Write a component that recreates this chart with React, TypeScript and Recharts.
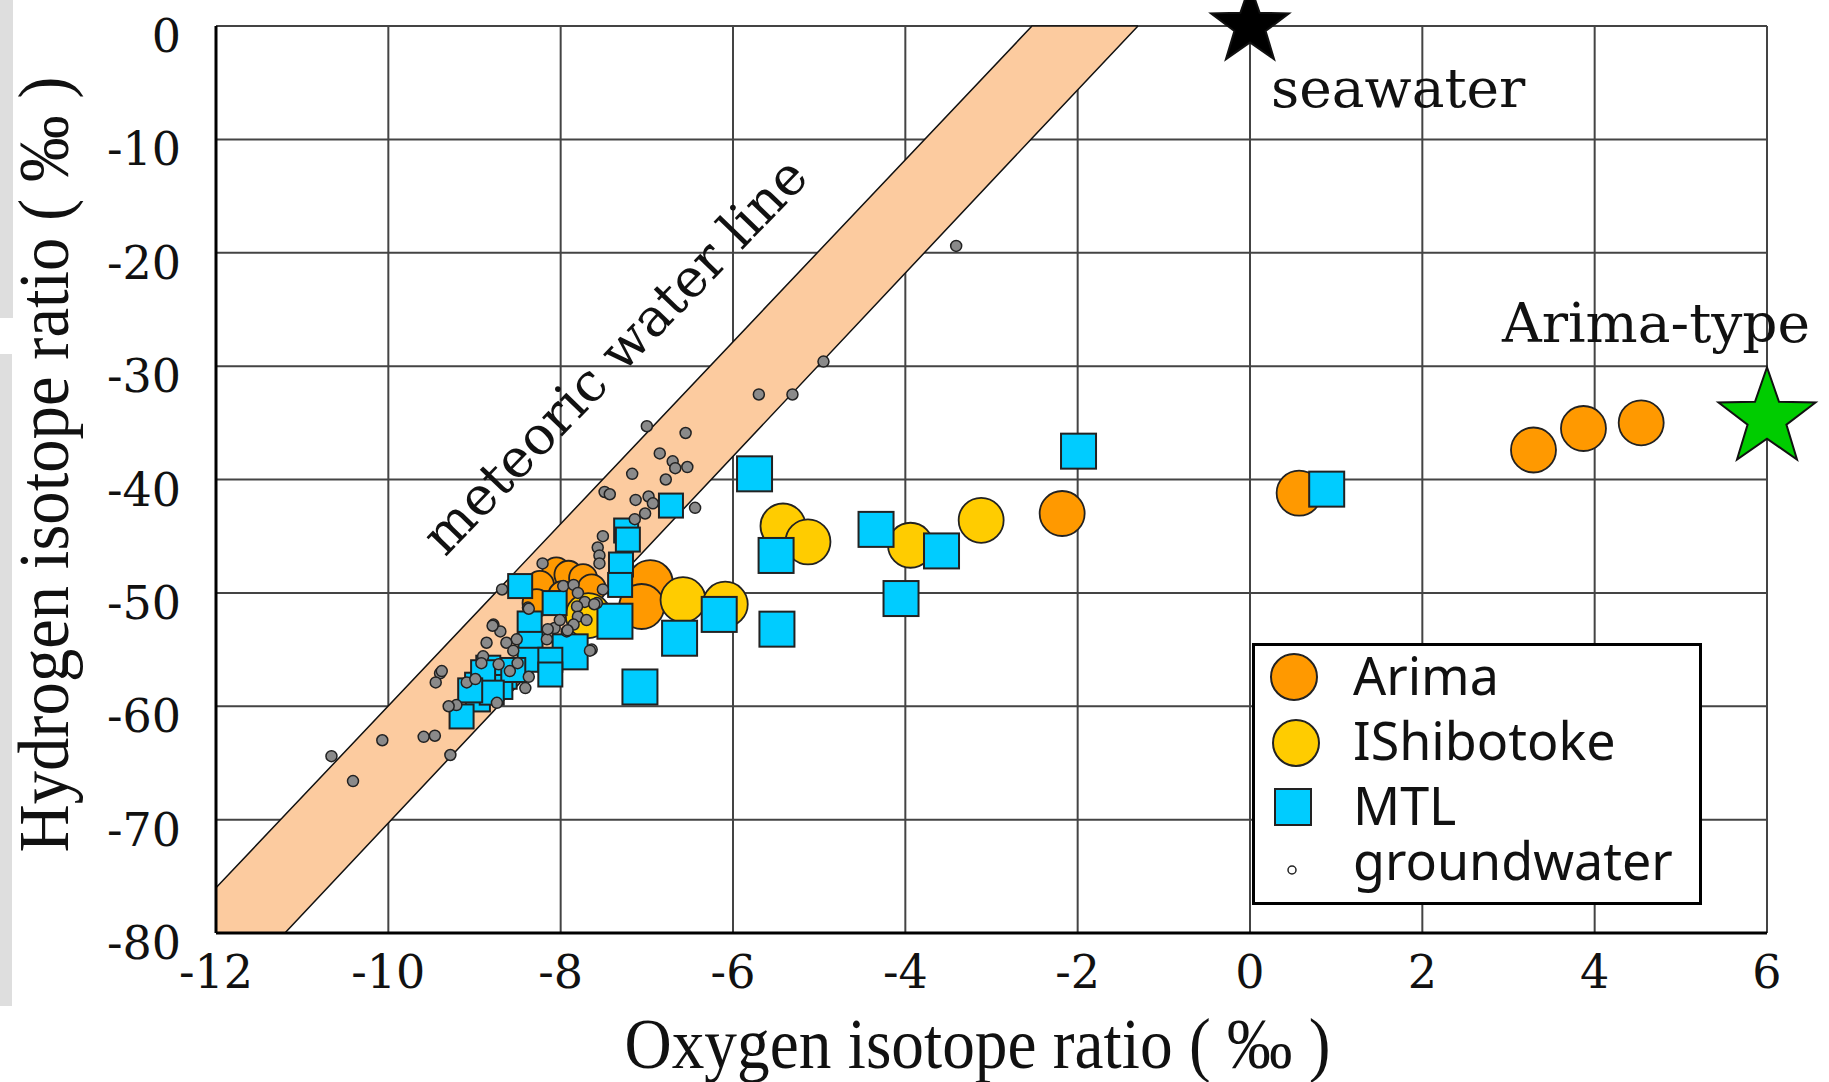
import { ComposedChart, Area, Scatter, XAxis, YAxis, CartesianGrid } from 'recharts'

const xTicks = [-12, -10, -8, -6, -4, -2, 0, 2, 4, 6]
const yTicks = [0, -10, -20, -30, -40, -50, -60, -70, -80]

// meteoric water line band (lower / upper edge), clamped to the plot frame
const bandX = [-12, -11.2, -2.53, -1.3]
const bandLow = [-80, -80, -9.9, 0]
const bandHigh = [-76, -69.6, 0, 0]

const arima = [
  [-6.96, -49.1], [-7.06, -51.2], [-2.18, -43.0], [0.57, -41.2],
  [3.29, -37.4], [3.87, -35.5], [4.54, -35.0],
]
const arimaCluster = [
  [-8.05, -48.1], [-7.91, -48.4], [-7.74, -48.7], [-8.24, -49.3],
  [-7.64, -49.6], [-8.28, -50.9], [-7.98, -50.2],
]
const ishibotoke = [
  [-5.42, -44.1], [-5.13, -45.5], [-3.94, -45.8], [-3.12, -43.6],
  [-6.58, -50.6], [-6.09, -51.0], [-7.68, -52.0],
]
const mtl = [
  [-5.75, -39.5], [-5.5, -46.7], [-4.34, -44.4], [-3.58, -46.3],
  [-4.05, -50.5], [-5.49, -53.2], [-6.16, -51.9], [-6.62, -54.0],
  [-1.99, -37.5], [0.89, -40.85], [-7.08, -58.3], [-7.37, -52.5],
  [-7.89, -55.2],
]
const mtlCluster = [
  [-6.72, -42.3], [-7.24, -44.5], [-7.22, -45.3], [-7.3, -47.5],
  [-7.31, -49.3], [-8.47, -49.4], [-8.07, -50.9], [-8.36, -52.7],
  [-8.35, -54.5], [-8.36, -55.9], [-8.12, -55.9], [-8.12, -57.2],
  [-8.84, -56.6], [-8.65, -57.4], [-8.97, -58.1], [-8.96, -59.4],
  [-9.15, -60.9], [-8.7, -58.3], [-8.55, -56.8], [-8.9, -57.0],
  [-8.8, -58.8], [-9.05, -58.6],
]
const groundwater = [
  [-3.41, -19.4], [-4.95, -29.6], [-5.31, -32.5], [-5.7, -32.5],
  [-7.0, -35.3], [-6.55, -35.9], [-6.85, -37.7], [-6.7, -38.4],
  [-6.67, -39.0], [-6.53, -38.9], [-7.17, -39.5], [-6.78, -40.0],
  [-7.49, -41.1], [-7.43, -41.3], [-7.13, -41.8], [-6.98, -41.5],
  [-6.93, -42.1], [-7.02, -43.0], [-6.44, -42.5], [-7.14, -43.5],
  [-7.51, -45.0], [-7.57, -46.0], [-7.55, -46.7], [-7.55, -47.4],
  [-8.21, -47.4], [-7.51, -49.7], [-8.68, -49.7], [-7.97, -49.4],
  [-7.85, -49.3], [-7.8, -50.0], [-7.72, -50.8], [-7.81, -51.2],
  [-7.58, -50.9], [-7.8, -52.1], [-7.7, -52.4], [-7.85, -52.8],
  [-8.07, -53.1], [-7.93, -53.4], [-8.16, -54.1], [-7.64, -55.0],
  [-8.38, -51.3], [-8.51, -54.1], [-8.78, -52.8], [-8.7, -53.4],
  [-8.86, -54.4], [-8.63, -54.4], [-8.9, -55.6], [-8.72, -56.3],
  [-8.59, -56.9], [-8.41, -58.4], [-8.74, -59.7], [-9.21, -59.9],
  [-9.3, -60.0], [-9.4, -57.1], [-9.38, -56.9], [-9.45, -57.9],
  [-9.09, -57.9], [-10.07, -63.0], [-9.59, -62.7], [-9.46, -62.6],
  [-10.66, -64.4], [-10.41, -66.6], [-9.28, -64.3], [-7.66, -55.1],
  [-7.61, -51.0], [-8.37, -51.4], [-8.01, -52.4], [-7.92, -53.3],
  [-8.15, -53.2], [-8.79, -52.9], [-8.55, -55.1], [-8.5, -56.2],
  [-8.37, -57.4], [-8.99, -57.6], [-8.92, -56.2],
]
const endMembers = [
  { x: 0, y: 0, name: 'seawater' },
  { x: 6, y: -34.6, name: 'Arima-type' },
]
const bandLabel = [{ x: -7.22, y: -30.2, name: 'meteoric water line' }]
const legendNames = ['Arima', 'IShibotoke', 'MTL', 'groundwater']

const bandData = bandX.map((x, i) => ({ x, band: [bandLow[i], bandHigh[i]] }))
const toPts = (a: number[][]) => a.map(([x, y]) => ({ x, y }))

const ORANGE = '#FF9900'
const YELLOW = '#FFCC00'
const CYAN = '#00CCFF'
const serif = '"DejaVu Serif", serif'
const titleFont = '"Liberation Serif", serif'

const circle = (r: number, fill: string, sw = 1.8) => (p: any) => (
  <circle cx={p.cx} cy={p.cy} r={r} fill={fill} stroke="#222" strokeWidth={sw} />
)
const square = (s: number) => (p: any) => (
  <rect x={p.cx - s / 2} y={p.cy - s / 2} width={s} height={s} fill={CYAN} stroke="#222" strokeWidth={2} />
)

function starPath(cx: number, cy: number, R: number) {
  const pts: string[] = []
  for (let i = 0; i < 10; i++) {
    const a = -Math.PI / 2 + (i * Math.PI) / 5
    const rad = i % 2 === 0 ? R : R * 0.4
    pts.push(`${cx + rad * Math.cos(a)},${cy + rad * Math.sin(a)}`)
  }
  return pts.join(' ')
}

const StarShape = (p: any) => {
  const sea = p.payload.name === 'seawater'
  const R = sea ? 41 : 51
  return (
    <g>
      <polygon points={starPath(p.cx, p.cy, R)} fill={sea ? '#000' : '#00CC00'} stroke="#111" strokeWidth={2} />
      <text
        x={sea ? p.cx + 21 : p.cx - 265}
        y={sea ? p.cy + 81 : p.cy - 76}
        fontFamily={serif}
        fontSize={55}
        fill="#111"
      >
        {p.payload.name}
      </text>
    </g>
  )
}

const BandText = (p: any) => (
  <text
    x={p.cx}
    y={p.cy}
    transform={`rotate(-46, ${p.cx}, ${p.cy})`}
    textAnchor="middle"
    fontFamily={serif}
    fontSize={53}
    fill="#111"
  >
    {p.payload.name}
  </text>
)

const XTick = (p: any) => (
  <text x={p.x} y={p.y + 34} textAnchor="middle" fontFamily={serif} fontSize={46} fill="#111">
    {p.payload.value}
  </text>
)
const YTick = (p: any) => (
  <text x={p.x} y={p.y + 26} textAnchor="end" fontFamily={serif} fontSize={46} fill="#111">
    {p.payload.value}
  </text>
)

const XTitle = (p: any) => {
  const vb = p.viewBox
  const cx = vb.x + vb.width / 2 - 14
  return (
    <text x={cx} y={1068} textAnchor="middle" fontFamily={titleFont} fontSize={72} fill="#111" textLength={706} lengthAdjust="spacingAndGlyphs">
      Oxygen isotope ratio ( ‰ )
    </text>
  )
}
const YTitle = (p: any) => {
  const vb = p.viewBox
  const cy = vb.y + vb.height / 2 - 15
  return (
    <text
      x={68}
      y={cy}
      transform={`rotate(-90, 68, ${cy})`}
      textAnchor="middle"
      fontFamily={titleFont}
      fontSize={72}
      fill="#111"
      textLength={776}
      lengthAdjust="spacingAndGlyphs"
    >
      Hydrogen isotope ratio ( ‰ )
    </text>
  )
}

function LegendBox() {
  const font = '"Noto Sans", sans-serif'
  return (
    <svg width={450} height={262} style={{ position: 'absolute', left: 1252, top: 643 }}>
      <rect x={1.5} y={1.5} width={447} height={259} fill="#fff" stroke="#000" strokeWidth={3} />
      <circle cx={42} cy={34} r={23} fill={ORANGE} stroke="#222" strokeWidth={2} />
      <circle cx={44} cy={100} r={23} fill={YELLOW} stroke="#222" strokeWidth={2} />
      <rect x={23} y={146} width={36} height={36} fill={CYAN} stroke="#222" strokeWidth={2} />
      <circle cx={40} cy={227} r={4} fill="#fff" stroke="#222" strokeWidth={1.5} />
      {legendNames.map((n, i) => (
        <text key={n} x={101} y={[52, 117, 182, 237][i]} fontFamily={font} fontSize={52} fill="#111">
          {n}
        </text>
      ))}
    </svg>
  )
}

export default function App() {
  return (
    <div style={{ position: 'absolute', left: 0, top: 0, width: 1829, height: 1082, background: '#fff' }}>
      <div style={{ position: 'absolute', left: 0, top: 0, width: 13, height: 318, background: '#dedede' }} />
      <div style={{ position: 'absolute', left: 0, top: 354, width: 12, height: 652, background: '#dedede' }} />
      <div style={{ position: 'absolute', left: 0, top: 0 }}>
        <ComposedChart width={1829} height={1082} data={bandData} margin={{ top: 26, right: 62, bottom: 89, left: 0 }}>
          <CartesianGrid stroke="#444" strokeWidth={2} />
          <XAxis
            type="number"
            dataKey="x"
            domain={[-12, 6]}
            ticks={xTicks}
            tickCount={10}
            interval={0}
            height={60}
            tickLine={false}
            tickSize={0}
            tickMargin={21}
            axisLine={{ stroke: '#000', strokeWidth: 3 }}
            tick={XTick}
            label={{ content: XTitle }}
          />
          <XAxis
            xAxisId="top"
            orientation="top"
            type="number"
            dataKey="x"
            domain={[-12, 6]}
            ticks={xTicks}
            tickCount={10}
            interval={0}
            height={0}
            tickSize={10}
            tickFormatter={() => ''}
            tickLine={{ stroke: '#444', strokeWidth: 2 }}
            axisLine={{ stroke: '#000', strokeWidth: 3 }}
          />
          <YAxis
            type="number"
            dataKey="y"
            domain={[-80, 0]}
            ticks={yTicks}
            tickCount={9}
            interval={0}
            width={216}
            tickLine={false}
            tickSize={0}
            tickMargin={35}
            axisLine={{ stroke: '#000', strokeWidth: 3 }}
            tick={YTick}
            label={{ content: YTitle }}
          />
          <YAxis
            yAxisId="right"
            orientation="right"
            type="number"
            dataKey="y"
            domain={[-80, 0]}
            ticks={yTicks}
            tickCount={9}
            interval={0}
            width={0}
            tickSize={10}
            tickFormatter={() => ''}
            tickLine={{ stroke: '#444', strokeWidth: 2 }}
            axisLine={{ stroke: '#000', strokeWidth: 3 }}
          />
          <Area
            type="linear"
            dataKey="band"
            fill="#FCCB9F"
            fillOpacity={1}
            stroke="#111"
            strokeWidth={1.5}
            dot={false}
            activeDot={false}
            isAnimationActive={false}
          />
          <Scatter data={bandLabel} shape={BandText} isAnimationActive={false} />
          <Scatter data={toPts(arimaCluster)} shape={circle(14, ORANGE)} isAnimationActive={false} />
          <Scatter data={toPts(arima)} shape={circle(22.5, ORANGE)} isAnimationActive={false} />
          <Scatter data={toPts(ishibotoke)} shape={circle(22.5, YELLOW)} isAnimationActive={false} />
          <Scatter data={toPts(mtl)} shape={square(35)} isAnimationActive={false} />
          <Scatter data={toPts(mtlCluster)} shape={square(24)} isAnimationActive={false} />
          <Scatter data={toPts(groundwater)} shape={circle(5.5, '#8a8a8a', 1.5)} isAnimationActive={false} />
          <Scatter xAxisId="top" yAxisId="right" data={endMembers} shape={StarShape} isAnimationActive={false} />
        </ComposedChart>
      </div>
      <LegendBox />
    </div>
  )
}
